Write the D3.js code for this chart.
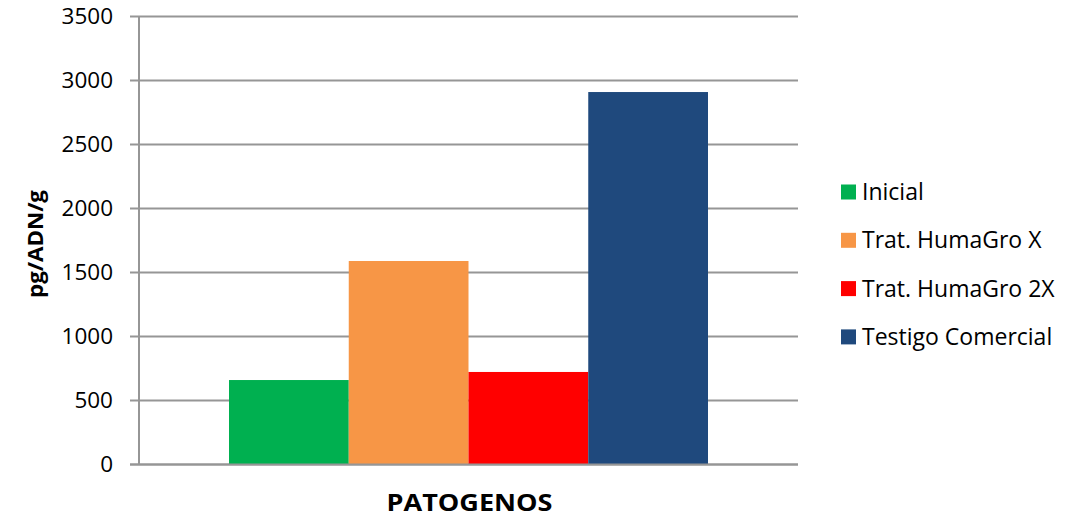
<!DOCTYPE html>
<html>
<head>
<meta charset="utf-8">
<script src="https://cdn.jsdelivr.net/npm/d3@7"></script>
<style>
  html, body { margin: 0; padding: 0; background: #fff; }
  svg { display: block; }
  text { font-family: "Open Sans", Lato, sans-serif; fill: #000; }
</style>
</head>
<body>
<svg id="chart" width="1066" height="519"></svg>
<script>
const categories = ["PATOGENOS"];
const seriesNames = ["Inicial", "Trat. HumaGro X", "Trat. HumaGro 2X", "Testigo Comercial"];
const seriesValues = [656, 1586, 719, 2906];
const seriesColors = ["#00b050", "#f79646", "#ff0000", "#1f497d"];
const yTicks = [0, 500, 1000, 1500, 2000, 2500, 3000, 3500];
const yTitle = "pg/ADN/g";

const svg = d3.select("#chart");
const plot = { left: 139, right: 798, top: 16, bottom: 464 };

const y = d3.scaleLinear().domain([0, 3500]).range([plot.bottom, plot.top]);
const x0 = d3.scaleBand().domain(categories).range([plot.left, plot.right]).paddingInner(0).paddingOuter(0.1879);
const x1 = d3.scaleBand().domain(seriesNames).range([0, x0.bandwidth()]).padding(0);

// gridlines
svg.append("g").selectAll("line").data(yTicks).join("line")
  .attr("x1", plot.left - 9).attr("x2", plot.right)
  .attr("y1", d => Math.round(y(d)) + 0.5).attr("y2", d => Math.round(y(d)) + 0.5)
  .attr("stroke", "#969696").attr("stroke-width", 2);

// bars
const data = seriesNames.map((s, i) => ({ name: s, value: seriesValues[i], color: seriesColors[i] }));
svg.append("g").selectAll("rect").data(data).join("rect")
  .attr("x", d => x0(categories[0]) + x1(d.name))
  .attr("width", x1.bandwidth())
  .attr("y", d => y(d.value))
  .attr("height", d => y(0) - y(d.value))
  .attr("fill", d => d.color);

// axes lines
svg.append("line")
  .attr("x1", plot.left).attr("x2", plot.left)
  .attr("y1", plot.top).attr("y2", plot.bottom + 1)
  .attr("stroke", "#969696").attr("stroke-width", 2);
svg.append("line")
  .attr("x1", plot.left - 9).attr("x2", plot.right)
  .attr("y1", Math.round(y(0)) + 0.5).attr("y2", Math.round(y(0)) + 0.5)
  .attr("stroke", "#969696").attr("stroke-width", 2);

// y tick labels via axis
const yAxis = d3.axisLeft(y).tickValues(yTicks).tickFormat(d3.format("d")).tickSize(0).tickPadding(0);
const ga = svg.append("g").attr("transform", `translate(${plot.left - 26},0)`).call(yAxis);
ga.select(".domain").remove();
ga.selectAll("text").attr("font-size", 22.5).attr("font-family", "'Open Sans', sans-serif").attr("fill", "#000").attr("dy", "0.35em");

// y title
svg.append("text")
  .attr("transform", `translate(43,244) rotate(-90)`)
  .attr("text-anchor", "middle")
  .attr("font-size", 21).attr("font-weight", "bold")
  .attr("textLength", 108).attr("lengthAdjust", "spacingAndGlyphs")
  .text(yTitle);

// x title
svg.append("text")
  .attr("x", x0(categories[0]) + x0.bandwidth() / 2 + 1)
  .attr("y", 511)
  .attr("text-anchor", "middle")
  .attr("font-size", 23).attr("font-weight", "bold")
  .attr("textLength", 166).attr("lengthAdjust", "spacingAndGlyphs")
  .text(categories[0]);

// legend
const lg = svg.append("g").attr("transform", "translate(841,192)");
const items = lg.selectAll("g").data(data).join("g")
  .attr("transform", (d, i) => `translate(0,${i * 48.3})`);
items.append("rect").attr("x", 0).attr("y", -7.5).attr("width", 15).attr("height", 15).attr("fill", d => d.color);
items.append("text").attr("x", 21).attr("y", 0).attr("dy", "0.35em").attr("font-size", 23).text(d => d.name);
</script>
</body>
</html>
